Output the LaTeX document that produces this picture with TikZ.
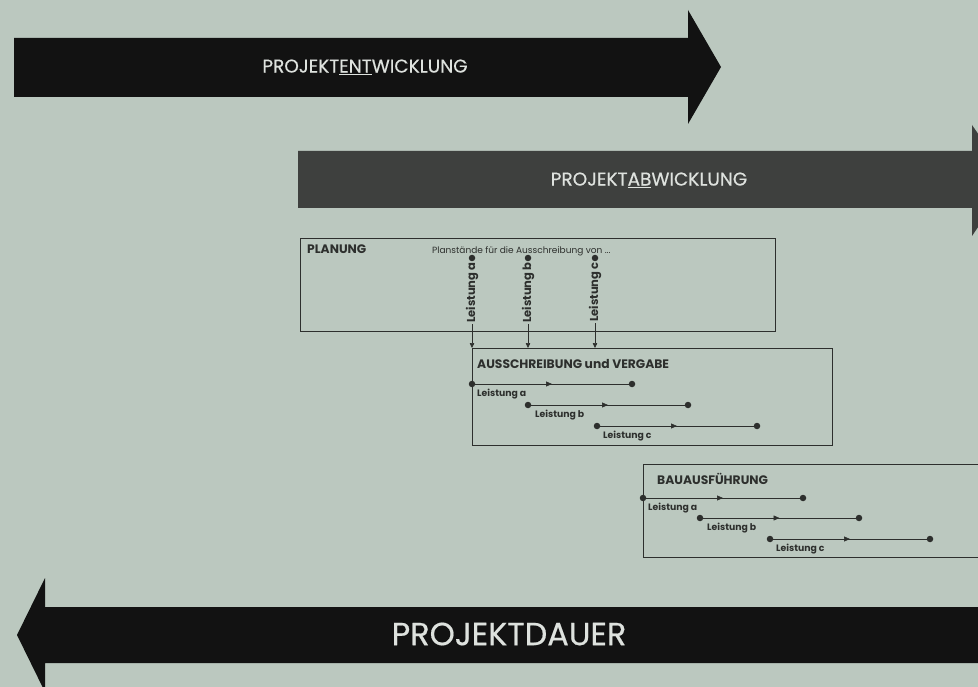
\documentclass[tikz,border=0pt]{standalone}
\usepackage{fontspec}
\setmainfont{Poppins}
\newfontfamily\mittel[FakeBold=0.5]{Poppins}
\usetikzlibrary{arrows.meta,calc,decorations.markings}
\definecolor{papier}{RGB}{187,200,191}
\definecolor{tiefschwarz}{RGB}{18,18,18}
\definecolor{dunkelgrau}{RGB}{62,64,62}
\definecolor{linie}{RGB}{45,47,45}
\definecolor{hell}{RGB}{222,226,222}
\tikzset{
  pfeiltext/.style={text=hell,font=\mittel\fontsize{18.5}{18.5}\selectfont,inner sep=0pt},
  kasten/.style={draw=linie,line width=0.7pt,anchor=north west,inner sep=0pt},
  titel/.style={text=linie,font=\bfseries\fontsize{12.3}{12.3}\selectfont,anchor=west,inner sep=0pt},
  punkt/.style={circle,fill=linie,inner sep=0pt,minimum size=6.5pt},
  leistung/.style={text=linie,font=\bfseries\fontsize{9.3}{9.3}\selectfont,anchor=north west,inner sep=0pt},
  vleistung/.style={text=linie,font=\bfseries\fontsize{11.5}{11.5}\selectfont,rotate=90,anchor=east,inner sep=1pt},
  zeiger/.style={draw=linie,line width=0.6pt,-{Triangle[length=5pt,width=4.5pt]}},
  lauf/.style={draw=linie,line width=0.6pt,postaction=decorate,
    decoration={markings,mark=at position 0.5 with {\arrow{Triangle[length=6pt,width=5pt]}}}},
}

\begin{document}
\begin{tikzpicture}[x=1pt,y=-1pt]
  \fill[papier] (0,0) rectangle (978,687);
  \useasboundingbox (0,0) rectangle (978,687);
  \clip (0,0) rectangle (978,687);

  % Pfeile
  \fill[tiefschwarz] (14,38) -- (688,38) -- (688,10) -- (721,67) -- (688,124) -- (688,97) -- (14,97) -- cycle;
  \node[pfeiltext] (entw) at (365,67) {PROJEKT\underline{ENT}WICKLUNG};
  \fill[dunkelgrau] (298,151) -- (972,151) -- (972,125) -- (1010,180) -- (972,236) -- (972,208) -- (298,208) -- cycle;
  \node[pfeiltext] (abw) at (649,180) {PROJEKT\underline{AB}WICKLUNG};
  \fill[tiefschwarz] (1000,607) -- (45,607) -- (45,578) -- (17,635) -- (45,692) -- (45,663) -- (1000,663) -- cycle;
  \node[pfeiltext,font=\mittel\fontsize{32}{32}\selectfont] (dauer) at (509,634) {PROJEKTDAUER};

  % Planung
  \node[kasten,minimum width=475pt,minimum height=93pt] (planung) at (300,238) {};
  \node[titel] (tplanung) at (307,249) {PLANUNG};
  \node[titel,font=\fontsize{9}{9}\selectfont] (plan) at (432,251) {Planstände für die Ausschreibung von ...};

  % Ausschreibung
  \node[kasten,minimum width=360pt,minimum height=97pt] (ausschr) at (472,348) {};
  \node[titel] (tausschr) at (477,364) {AUSSCHREIBUNG und VERGABE};

  \node[punkt] (pa) at (472,258) {};
  \node[punkt] (pb) at (528,258) {};
  \node[punkt] (pc) at (595,258) {};
  \node[vleistung] (la) at (472,261) {Leistung a};
  \node[vleistung] (lb) at (528,261) {Leistung b};
  \node[vleistung] (lc) at (595,261) {Leistung c};
  \draw[zeiger] (la.west) -- (la.west |- ausschr.north);
  \draw[zeiger] (lb.west) -- (lb.west |- ausschr.north);
  \draw[zeiger] (lc.west) -- (lc.west |- ausschr.north);

  \node[punkt] (aa1) at (472,384) {};
  \node[punkt] (aa2) at (632,384) {};
  \draw[lauf] (aa1) -- (aa2);
  \node[leistung] (laa) at ($(aa1)+(5,5)$) {Leistung a};
  \node[punkt] (ab1) at (528,405) {};
  \node[punkt] (ab2) at (688,405) {};
  \draw[lauf] (ab1) -- (ab2);
  \node[leistung] (lab) at ($(ab1)+(7,5)$) {Leistung b};
  \node[punkt] (ac1) at (597,426) {};
  \node[punkt] (ac2) at (757,426) {};
  \draw[lauf] (ac1) -- (ac2);
  \node[leistung] (lac) at ($(ac1)+(6,5)$) {Leistung c};

  % Bauausfuehrung
  \node[kasten,minimum width=345pt,minimum height=93pt] (bau) at (643,464) {};
  \node[titel] (tbau) at (657,479) {BAUAUSFÜHRUNG};
  \node[punkt] (ba1) at (643,498) {};
  \node[punkt] (ba2) at (803,498) {};
  \draw[lauf] (ba1) -- (ba2);
  \node[leistung] (lba) at ($(ba1)+(5,5)$) {Leistung a};
  \node[punkt] (bb1) at (700,518) {};
  \node[punkt] (bb2) at (859,518) {};
  \draw[lauf] (bb1) -- (bb2);
  \node[leistung] (lbb) at ($(bb1)+(7,5)$) {Leistung b};
  \node[punkt] (bc1) at (770,539) {};
  \node[punkt] (bc2) at (930,539) {};
  \draw[lauf] (bc1) -- (bc2);
  \node[leistung] (lbc) at ($(bc1)+(6,5)$) {Leistung c};
\end{tikzpicture}
\end{document}
